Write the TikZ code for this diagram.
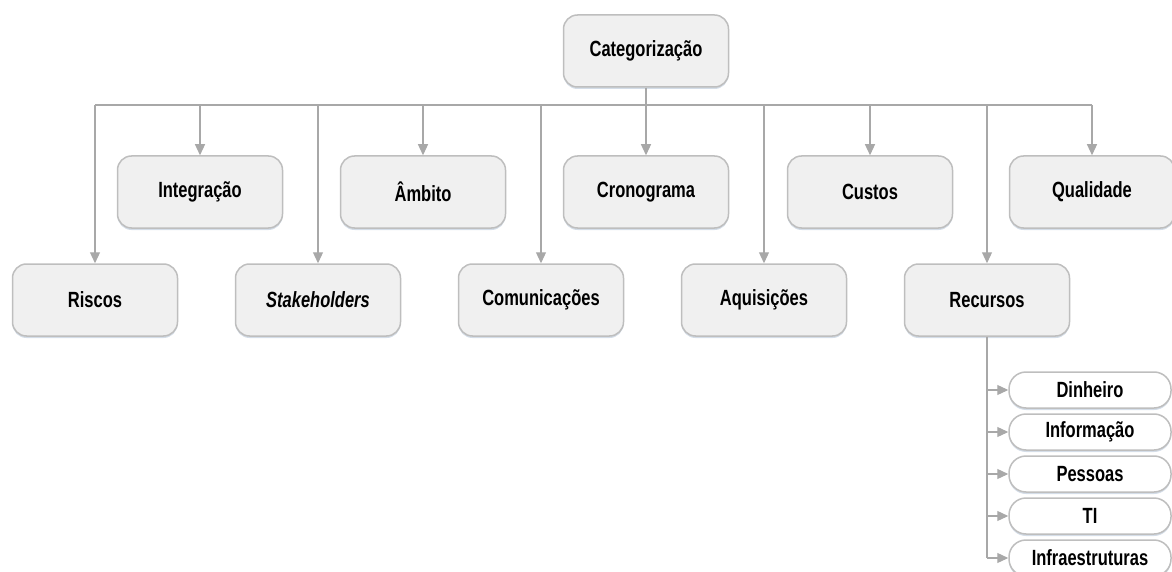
\documentclass[tikz,border=0pt]{standalone}
\usepackage{fontspec}
\setmainfont{Liberation Sans}[FakeStretch=0.75]
\usetikzlibrary{arrows.meta,shadows}
\definecolor{boxfill}{HTML}{F0F0F0}
\definecolor{boxline}{HTML}{BEBEBE}
\definecolor{linkc}{HTML}{A8A8A8}
\definecolor{shadowc}{HTML}{9FB4CC}
\begin{document}
\begin{tikzpicture}[x=1pt,y=-1pt,
  boxshadow/.style={drop shadow={shadow xshift=0pt,shadow yshift=-2pt,fill=shadowc,opacity=0.45}},
  cat/.style={draw=boxline,line width=1.5pt,fill=boxfill,rounded corners=14pt,
    minimum width=165pt,minimum height=72pt,inner sep=0pt,
    font=\fontsize{22}{26}\selectfont\bfseries,boxshadow},
  sub/.style={draw=boxline,line width=1.5pt,fill=white,rounded corners=17pt,
    minimum width=162pt,minimum height=36pt,inner sep=0pt,
    font=\fontsize{22}{26}\selectfont\bfseries,boxshadow},
  link/.style={draw=linkc,line width=1.2pt},
  arr/.style={link,-{Triangle[length=11pt,width=10pt]}}
]
\useasboundingbox (0,0) rectangle (1172,572);
\begin{scope}
\clip (0,0) rectangle (1172,572);
% root
\node[cat] (root) at (646,51) {Categorização};
% upper row
\node[cat] (integ) at (200,192) {Integração};
\node[cat] (ambito) at (423,192) {Âmbito};
\node[cat] (crono) at (646,192) {Cronograma};
\node[cat] (custos) at (870,192) {Custos};
\node[cat] (qual) at (1092,192) {Qualidade};
% lower row
\node[cat] (riscos) at (95,300) {Riscos};
\node[cat] (stake) at (318,300) {\textit{Stakeholders}};
\node[cat] (comun) at (541,300) {Comunicações};
\node[cat] (aquis) at (764,300) {Aquisições};
\node[cat] (recur) at (987,300) {Recursos};
% resources
\node[sub] (dinh) at (1090,390) {Dinheiro};
\node[sub] (info) at (1090,432) {Informação};
\node[sub] (pess) at (1090,474) {Pessoas};
\node[sub] (ti) at (1090,516) {TI};
\node[sub] (infra) at (1090,558) {Infraestruturas};

% connectors
\coordinate (bus) at (646,105);
\draw[link] (root.south) -- (bus);
\draw[link] (riscos |- bus) -- (qual |- bus);
\foreach \n in {integ,ambito,crono,custos,qual,riscos,stake,comun,aquis,recur}
  \draw[arr] (\n |- bus) -- (\n.north);
\draw[link] (recur.south) -- (recur.south |- infra);
\foreach \n in {dinh,info,pess,ti,infra}
  \draw[arr] (recur.south |- \n) -- (\n.west);
\end{scope}
\end{tikzpicture}
\end{document}
